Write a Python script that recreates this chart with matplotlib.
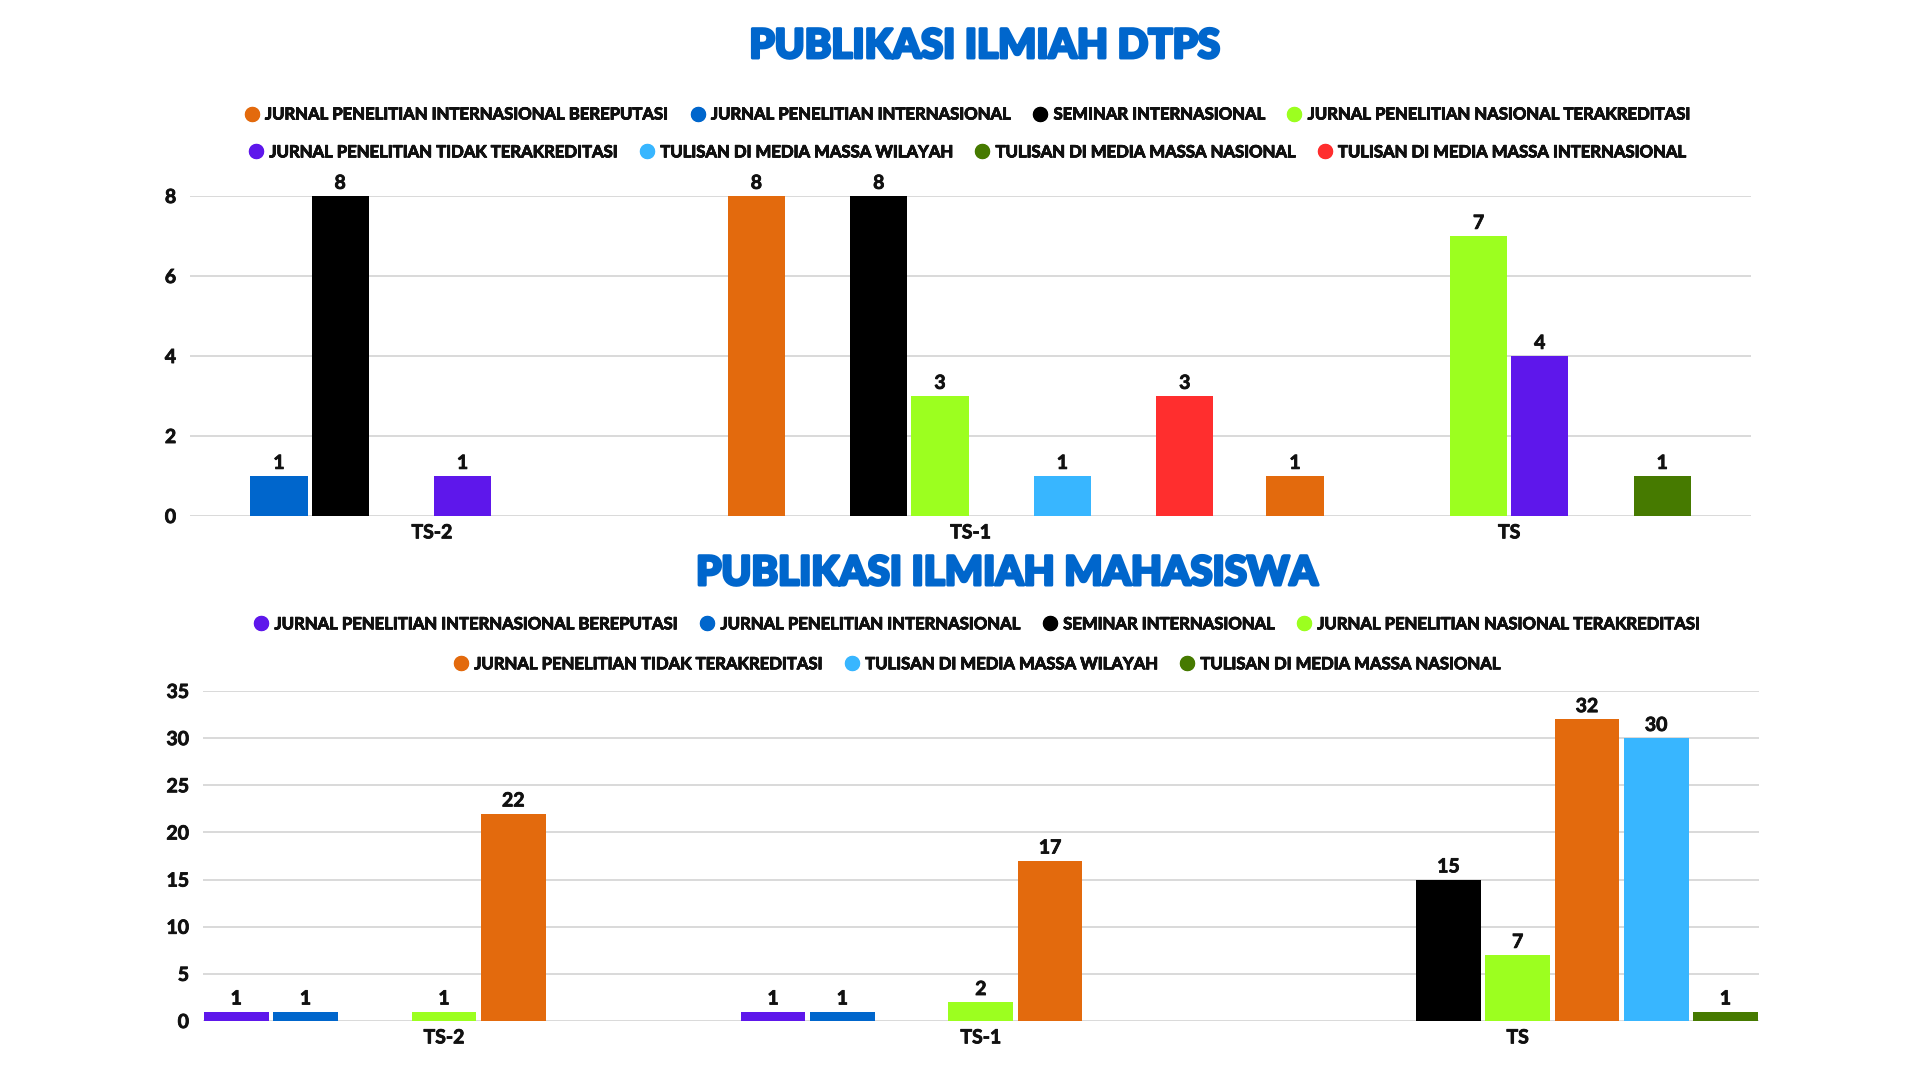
import numpy as np
import matplotlib
matplotlib.use("Agg")
import matplotlib.pyplot as plt
import matplotlib.patheffects as pe
from matplotlib.lines import Line2D

# data
kategori = ["TS-2", "TS-1", "TS"]

dtps_seri = ["JURNAL PENELITIAN INTERNASIONAL BEREPUTASI", "JURNAL PENELITIAN INTERNASIONAL",
             "SEMINAR INTERNASIONAL", "JURNAL PENELITIAN NASIONAL TERAKREDITASI",
             "JURNAL PENELITIAN TIDAK TERAKREDITASI", "TULISAN DI MEDIA MASSA WILAYAH",
             "TULISAN DI MEDIA MASSA NASIONAL", "TULISAN DI MEDIA MASSA INTERNASIONAL"]
dtps_nilai = [
    [0, 8, 1],   # internasional bereputasi
    [1, 0, 0],   # internasional
    [8, 8, 0],   # seminar
    [0, 3, 7],   # nasional terakreditasi
    [1, 0, 4],   # tidak terakreditasi
    [0, 1, 0],   # media wilayah
    [0, 0, 1],   # media nasional
    [0, 3, 0],   # media internasional
]
dtps_warna = ["#E36A0D", "#0066CC", "#000000", "#9CFF1F",
              "#5E17EB", "#38B6FF", "#467A00", "#FF2E2E"]

mhs_seri = ["JURNAL PENELITIAN INTERNASIONAL BEREPUTASI", "JURNAL PENELITIAN INTERNASIONAL",
            "SEMINAR INTERNASIONAL", "JURNAL PENELITIAN NASIONAL TERAKREDITASI",
            "JURNAL PENELITIAN TIDAK TERAKREDITASI", "TULISAN DI MEDIA MASSA WILAYAH",
            "TULISAN DI MEDIA MASSA NASIONAL"]
mhs_nilai = [
    [1, 1, 0],
    [1, 1, 0],
    [0, 0, 15],
    [1, 2, 7],
    [22, 17, 32],
    [0, 0, 30],
    [0, 0, 1],
]
mhs_warna = ["#5E17EB", "#0066CC", "#000000", "#9CFF1F",
             "#E36A0D", "#38B6FF", "#467A00"]

BIRU = "#0066CC"
judul_font = ["Lato", "DejaVu Sans"]
angka_font = ["Lato", "DejaVu Sans"]
legend_font = ["Lato", "DejaVu Sans"]

fig = plt.figure(figsize=(19.2, 10.8), dpi=100)
fig.patch.set_facecolor("white")

tebal = [pe.withStroke(linewidth=0.6, foreground="#111111")]


def gambar(ax, nilai, warna, ymax, yticks, lebar_grup):
    n = len(nilai)
    slot = lebar_grup / n
    x = np.arange(len(kategori))
    for i, (v, c) in enumerate(zip(nilai, warna)):
        pos = x + (i - (n - 1) / 2) * slot
        ax.bar(pos, v, width=slot * 0.935, color=c, zorder=3)
        for px, pv in zip(pos, v):
            if pv > 0:
                ax.annotate(str(pv), (px, pv), xytext=(0, 3), textcoords="offset points",
                            ha="center", va="bottom", fontsize=14, fontweight="bold",
                            family=angka_font, color="#111111", path_effects=tebal)
    ax.set_xlim(-0.449, 2.449)
    ax.set_ylim(0, ymax)
    ax.set_yticks(yticks)
    ax.set_xticks(x)
    ax.set_xticklabels(kategori)
    for s in ax.spines.values():
        s.set_visible(False)
    ax.grid(axis="y", color="#D9D9D9", linewidth=1.4, zorder=0)
    ax.tick_params(length=0, labelsize=14, pad=10, labelcolor="#111111")
    for t in ax.get_xticklabels() + ax.get_yticklabels():
        t.set_fontweight("bold")
        t.set_family(angka_font)
        t.set_path_effects(tebal)
    ax.tick_params(axis="x", pad=6)


def legenda(seri, warna, baris, y_list, xc):
    for idx, y in zip(baris, y_list):
        h = [Line2D([], [], marker="o", linestyle="none", markersize=10,
                    markerfacecolor=warna[i], markeredgecolor=warna[i]) for i in idx]
        leg = fig.legend(h, [seri[i] for i in idx], loc="center", bbox_to_anchor=(xc, y),
                         ncol=len(idx), frameon=False, handlelength=0.8, handletextpad=0.4,
                         columnspacing=1.35, prop={"family": legend_font, "weight": "bold", "size": 12})
        for t in leg.get_texts():
            t.set_color("#111111")
            t.set_path_effects([pe.withStroke(linewidth=0.5, foreground="#111111")])
        fig.add_artist(leg)


def judul(x, y, teks):
    fig.text(x, y, teks, ha="center", va="center", fontsize=29, fontweight="black",
             family=judul_font, color=BIRU,
             path_effects=[pe.withStroke(linewidth=2.2, foreground=BIRU)])


# chart atas: DTPS
ax1 = fig.add_axes([0.099, 0.5222, 0.813, 0.2963])
gambar(ax1, dtps_nilai, dtps_warna, 8, [0, 2, 4, 6, 8], 0.909)
judul(0.5125, 0.957, "PUBLIKASI ILMIAH DTPS")
legenda(dtps_seri, dtps_warna, [[0, 1, 2, 3], [4, 5, 6, 7]], [0.894, 0.859], 0.504)

# chart bawah: mahasiswa
ax2 = fig.add_axes([0.1057, 0.0546, 0.8103, 0.3056])
gambar(ax2, mhs_nilai, mhs_warna, 35, list(range(0, 36, 5)), 0.903)
judul(0.524, 0.469, "PUBLIKASI ILMIAH MAHASISWA")
legenda(mhs_seri, mhs_warna, [[0, 1, 2, 3], [4, 5, 6]], [0.422, 0.385], 0.509)

fig.savefig("out.png", dpi=100, facecolor="white")
